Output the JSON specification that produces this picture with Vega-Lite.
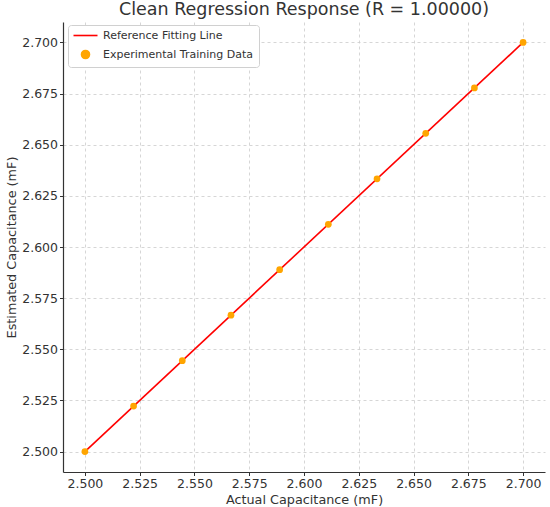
{
  "$schema": "https://vega.github.io/schema/vega-lite/v6.json",
  "autosize": {"type": "none"},
  "width": 482,
  "height": 450,
  "padding": {"left": 63, "top": 22, "right": 5, "bottom": 35},
  "background": "white",
  "title": {
    "text": "Clean Regression Response (R = 1.00000)",
    "font": "DejaVu Sans",
    "fontSize": 17.5,
    "fontWeight": "normal",
    "color": "#333333",
    "offset": 5,
    "dy": 15,
    "baseline": "alphabetic",
    "anchor": "middle"
  },
  "config": {
    "view": {"stroke": null},
    "axis": {
      "labelFont": "DejaVu Sans",
      "titleFont": "DejaVu Sans",
      "labelFontSize": 12.5,
      "titleFontSize": 12.8,
      "titleFontWeight": "normal",
      "labelColor": "#333333",
      "titleColor": "#333333",
      "domainColor": "#333333",
      "domainWidth": 1.2,
      "tickColor": "#333333",
      "tickSize": 3.5,
      "labelPadding": 2,
      "gridColor": "#cccccc",
      "gridDash": [3, 3],
      "gridWidth": 0.8
    },
    "legend": {
      "labelFont": "DejaVu Sans",
      "labelFontSize": 11,
      "labelColor": "#333333"
    }
  },
  "data": {
    "values": [
      {"actual": 2.5, "estimated": 2.5, "series": "Reference Fitting Line"},
      {"actual": 2.7, "estimated": 2.7, "series": "Reference Fitting Line"},
      {"actual": 2.5, "estimated": 2.5, "series": "Experimental Training Data"},
      {"actual": 2.522222, "estimated": 2.522222, "series": "Experimental Training Data"},
      {"actual": 2.544444, "estimated": 2.544444, "series": "Experimental Training Data"},
      {"actual": 2.566667, "estimated": 2.566667, "series": "Experimental Training Data"},
      {"actual": 2.588889, "estimated": 2.588889, "series": "Experimental Training Data"},
      {"actual": 2.611111, "estimated": 2.611111, "series": "Experimental Training Data"},
      {"actual": 2.633333, "estimated": 2.633333, "series": "Experimental Training Data"},
      {"actual": 2.655556, "estimated": 2.655556, "series": "Experimental Training Data"},
      {"actual": 2.677778, "estimated": 2.677778, "series": "Experimental Training Data"},
      {"actual": 2.7, "estimated": 2.7, "series": "Experimental Training Data"}
    ]
  },
  "encoding": {
    "x": {
      "field": "actual", "type": "quantitative",
      "scale": {"domain": [2.49, 2.71], "nice": false, "zero": false},
      "axis": {"title": "Actual Capacitance (mF)", "values": [2.5, 2.525, 2.55, 2.575, 2.6, 2.625, 2.65, 2.675, 2.7], "format": ".3f", "titlePadding": 3}
    },
    "y": {
      "field": "estimated", "type": "quantitative",
      "scale": {"domain": [2.49, 2.71], "nice": false, "zero": false},
      "axis": {"title": "Estimated Capacitance (mF)", "values": [2.5, 2.525, 2.55, 2.575, 2.6, 2.625, 2.65, 2.675, 2.7], "format": ".3f", "titlePadding": 3}
    },
    "color": {
      "field": "series", "type": "nominal",
      "scale": {"domain": ["Reference Fitting Line", "Experimental Training Data"], "range": ["#ff0000", "#ffa500"]},
      "legend": {
        "title": null,
        "orient": "none",
        "legendX": 5,
        "legendY": 3,
        "fillColor": "white",
        "strokeColor": "#d0d0d0",
        "cornerRadius": 3,
        "padding": 5,
        "rowPadding": 6,
        "symbolSize": 64,
        "symbolOffset": 7,
        "labelOffset": 12,
        "symbolStrokeWidth": 1.6,
        "encode": {
          "symbols": {"update": {"stroke": {"scale": "color", "field": "value"}}}
        }
      }
    }
  },
  "layer": [
    {
      "transform": [{"filter": "datum.series === 'Reference Fitting Line'"}],
      "mark": {"type": "line", "strokeWidth": 1.6}
    },
    {
      "transform": [{"filter": "datum.series === 'Experimental Training Data'"}],
      "mark": {"type": "point", "filled": true, "size": 45, "opacity": 1},
      "encoding": {
        "shape": {
          "field": "series", "type": "nominal",
          "scale": {"domain": ["Reference Fitting Line", "Experimental Training Data"], "range": ["M-3,0H3", "circle"]},
          "legend": null
        }
      }
    }
  ]
}
